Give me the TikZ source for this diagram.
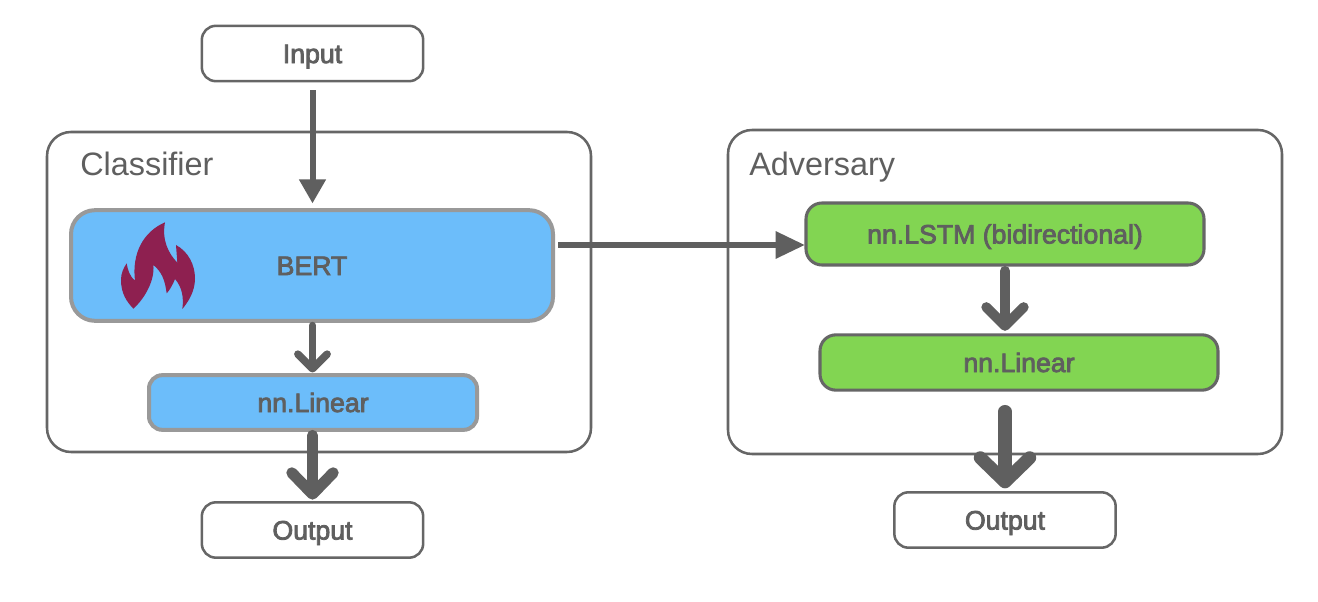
\documentclass[tikz,border=0pt]{standalone}
\usepackage{fontspec}
\setmainfont{Liberation Sans}
\newfontfamily\medfont[FakeBold=3]{Liberation Sans}
\usetikzlibrary{arrows.meta}
\definecolor{ink}{HTML}{5F5F5F}
\definecolor{edge}{HTML}{666666}
\definecolor{bluefill}{HTML}{6CBDFA}
\definecolor{blueedge}{HTML}{999999}
\definecolor{greenfill}{HTML}{82D552}
\definecolor{flame}{HTML}{8E2050}
\tikzset{
  x=0.75pt,y=-0.75pt,
  basebox/.style={rectangle,rounded corners=#1,draw=edge,inner sep=0pt,outer sep=0pt,text=ink,font=\fontsize{20}{22}\medfont,text height=14.3pt,text depth=0pt},
  plainbox/.style={basebox=10.5pt,line width=1.9pt,fill=white,minimum width=166pt,minimum height=41.5pt},
  groupbox/.style={rectangle,rounded corners=18pt,draw=edge,line width=1.9pt,fill=white,inner sep=0pt,outer sep=0pt},
  bluebox/.style={basebox=#1,draw=blueedge,fill=bluefill,line width=3pt},
  greenbox/.style={basebox=12pt,draw=edge,fill=greenfill,line width=2.3pt,minimum width=298.5pt},
  grouplabel/.style={text=ink,font=\fontsize{24.3}{28}\selectfont,inner sep=0pt,anchor=west,text height=17.5pt,text depth=0pt},
  flow/.style={draw=ink,line cap=round},
  headtri/.style={flow,line width=4.5pt,line cap=butt,-{Triangle[length=18pt,width=19pt]}},
  headlong/.style={flow,line width=4.5pt,line cap=butt,-{Triangle[length=22pt,width=19.5pt]}},
  chevS/.style={flow,line width=5.6pt,-{Straight Barb[length=11pt,width=22pt,round]}},
  chevM/.style={flow,line width=7.5pt,-{Straight Barb[length=14pt,width=28pt,round]}},
  chevL/.style={flow,line width=8.3pt,-{Straight Barb[length=16pt,width=31pt,round]}},
  chevX/.style={flow,line width=9.8pt,-{Straight Barb[length=18pt,width=37pt,round]}},
}
\begin{document}
\begin{tikzpicture}
\useasboundingbox (0,0) rectangle (1318,602);
\fill[white] (0,0) rectangle (1318,602);
% groups
\node[groupbox,minimum width=408pt,minimum height=240pt] (classifier) at (319,292) {};
\node[groupbox,minimum width=415.5pt,minimum height=243pt] (adversary) at (1005,292) {};
\node[grouplabel] (classlabel) at (80,164) {Classifier};
\node[grouplabel] (advlabel) at (749,164) {Adversary};
% boxes
\node[plainbox] (input) at (312.5,53.5) {Input};
\node[bluebox=18pt,minimum width=361.5pt,minimum height=83pt] (bert) at (312,265.5) {BERT};
\node[bluebox=10pt,minimum width=246pt,minimum height=41pt] (clinear) at (313,402.5) {nn.Linear};
\node[plainbox] (coutput) at (312.5,530) {Output};
\node[greenbox,minimum height=46.5pt] (lstm) at (1005,234) {nn.LSTM (bidirectional)};
\node[greenbox,minimum height=41.5pt] (alinear) at (1019,362.5) {nn.Linear};
\node[plainbox] (aoutput) at (1005,520) {Output};
% flame
\begin{scope}[shift={(60,190)},x=0.25pt,y=-0.25pt]
\fill[flame] (315,97) .. controls (305,150) and (325,190) .. (352,218)
 -- (348,165) .. controls (385,185) and (405,225) .. (405,265)
 .. controls (405,305) and (385,335) .. (367,357)
 .. controls (372,320) and (365,290) .. (345,267)
 .. controls (340,280) and (330,300) .. (320,310)
 .. controls (315,270) and (305,245) .. (280,225)
 .. controls (285,270) and (255,325) .. (220,356)
 .. controls (200,335) and (183,310) .. (183,270)
 .. controls (183,250) and (190,235) .. (200,220)
 .. controls (203,240) and (210,260) .. (225,272)
 .. controls (215,190) and (250,125) .. (315,97) -- cycle;
\end{scope}
% connectors
\coordinate (bertout) at (558,245);
\coordinate (lstmin) at (805,245);
\draw[headtri,shorten <=6.75pt,shorten >=5pt] (input.south) -- (input.south |- bert.north);
\draw[headlong] (bertout) -- (lstmin);
\draw[chevS,shorten <=3.5pt,shorten >=2pt] (bert.south -| input.south) -- (clinear.north -| input.south);
\draw[chevL,shorten <=4.2pt,shorten >=2pt] (clinear.south -| input.south) -- (coutput.north -| input.south);
\draw[chevM,shorten <=4.5pt,shorten >=3pt] (lstm.south) -- (lstm.south |- alinear.north);
\draw[chevX,shorten <=16pt,shorten >=3pt] (alinear.south -| aoutput.north) -- (aoutput.north);
\end{tikzpicture}
\end{document}
